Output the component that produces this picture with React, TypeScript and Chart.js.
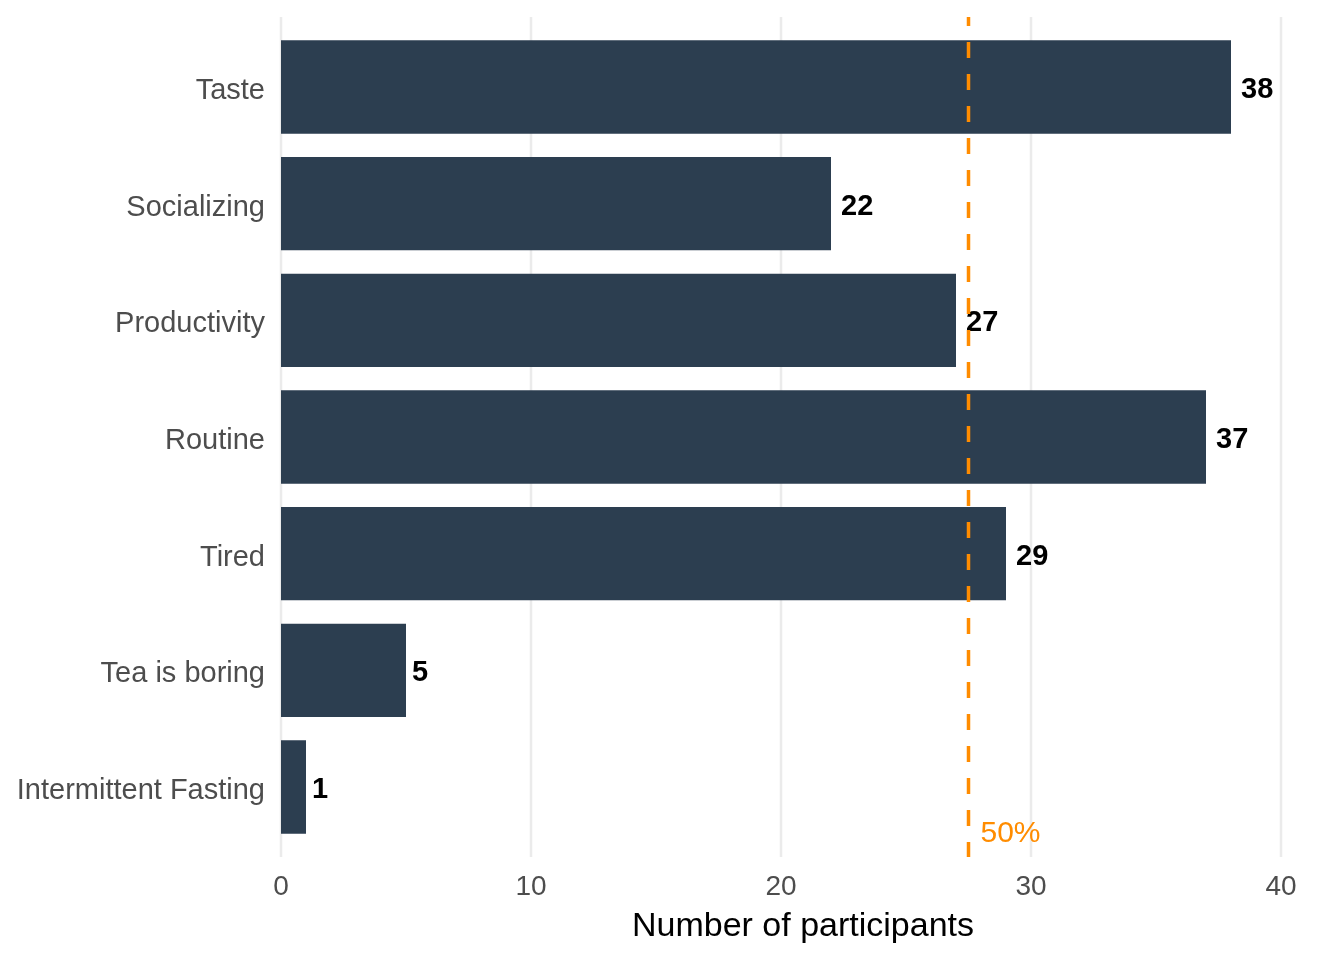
import React, { useEffect, useRef } from "react";
import { Chart, registerables } from "chart.js";

Chart.register(...registerables);

const categories = [
  "Taste",
  "Socializing",
  "Productivity",
  "Routine",
  "Tired",
  "Tea is boring",
  "Intermittent Fasting",
];
const counts = [38, 22, 27, 37, 29, 5, 1];
const xTicks = [0, 10, 20, 30, 40];
const halfLine = 27.5;
const halfLabel = "50%";
const xTitle = "Number of participants";

const FONT = "'Liberation Sans', Arial, sans-serif";
const BAR = "#2C3E50";
const ORANGE = "#FF8C00";
const GRID = "#EBEBEB";

const overlay = {
  id: "overlay",
  beforeDatasetsDraw(chart: any) {
    const { ctx, chartArea } = chart;
    const xs = chart.scales.x;
    const ext = ((chartArea.bottom - chartArea.top) / categories.length) * 0.1;
    const top = chartArea.top - ext;
    const bottom = chartArea.bottom + ext;
    ctx.save();
    ctx.strokeStyle = GRID;
    ctx.lineWidth = 2.5;
    xTicks.forEach((t) => {
      const px = xs.getPixelForValue(t);
      ctx.beginPath();
      ctx.moveTo(px, top);
      ctx.lineTo(px, bottom);
      ctx.stroke();
    });
    ctx.restore();
  },
  afterDatasetsDraw(chart: any) {
    const { ctx, chartArea } = chart;
    const xs = chart.scales.x;
    const ys = chart.scales.y;
    const ext = ((chartArea.bottom - chartArea.top) / categories.length) * 0.1;
    const top = chartArea.top - ext;
    const bottom = chartArea.bottom + ext;
    ctx.save();
    // value labels
    ctx.fillStyle = "#000000";
    ctx.font = `bold 29px ${FONT}`;
    ctx.textAlign = "left";
    ctx.textBaseline = "middle";
    counts.forEach((v, i) => {
      const off = v < 10 ? 6 : 10;
      ctx.fillText(String(v), xs.getPixelForValue(v) + off, ys.getPixelForValue(i) + 3);
    });
    // dashed line
    const lx = xs.getPixelForValue(halfLine);
    ctx.strokeStyle = ORANGE;
    ctx.lineWidth = 3.5;
    ctx.setLineDash([16, 16]);
    ctx.lineDashOffset = 7;
    ctx.beginPath();
    ctx.moveTo(lx, top);
    ctx.lineTo(lx, bottom);
    ctx.stroke();
    ctx.setLineDash([]);
    ctx.fillStyle = ORANGE;
    ctx.font = `30px ${FONT}`;
    ctx.textBaseline = "alphabetic";
    ctx.fillText(halfLabel, lx + 12, bottom - 15);
    // axis title
    ctx.fillStyle = "#000000";
    ctx.font = `34px ${FONT}`;
    ctx.textAlign = "center";
    ctx.fillText(xTitle, (chartArea.left + chartArea.right) / 2, 936);
    ctx.restore();
  },
};

export default function App() {
  const ref = useRef<HTMLCanvasElement>(null);
  useEffect(() => {
    document.body.style.margin = "0";
    const chart = new Chart(ref.current!, {
      type: "bar",
      data: {
        labels: categories,
        datasets: [
          {
            data: counts,
            backgroundColor: BAR,
            borderWidth: 0,
            categoryPercentage: 0.8,
            barPercentage: 1,
          },
        ],
      },
      options: {
        indexAxis: "y",
        animation: false,
        responsive: false,
        devicePixelRatio: 1,
        layout: { padding: { top: 28.67, right: 19, left: 0, bottom: 0 } },
        plugins: { legend: { display: false }, tooltip: { enabled: false } },
        scales: {
          x: {
            type: "linear",
            min: 0,
            max: 41.76,
            grid: { display: false, drawTicks: false },
            border: { display: false },
            afterBuildTicks: (s: any) => {
              s.ticks = xTicks.map((v) => ({ value: v }));
            },
            afterFit: (s: any) => {
              s.height = 960 - 845.33;
              s.paddingLeft = 0;
              s.paddingRight = 0;
            },
            ticks: {
              color: "#4D4D4D",
              font: { family: FONT, size: 28 },
              padding: 25,
              maxRotation: 0,
            },
          },
          y: {
            type: "category",
            offset: true,
            grid: { display: false, drawTicks: false },
            border: { display: false },
            afterFit: (s: any) => {
              s.width = 281;
              s.paddingTop = 0;
              s.paddingBottom = 0;
            },
            ticks: {
              color: "#4D4D4D",
              font: { family: FONT, size: 29 },
              padding: 16,
              labelOffset: 4,
            },
          },
        },
      },
      plugins: [overlay],
    });
    return () => chart.destroy();
  }, []);
  return (
    <div style={{ width: 1344, height: 960 }}>
      <canvas ref={ref} width={1344} height={960} style={{ display: "block" }} />
    </div>
  );
}
